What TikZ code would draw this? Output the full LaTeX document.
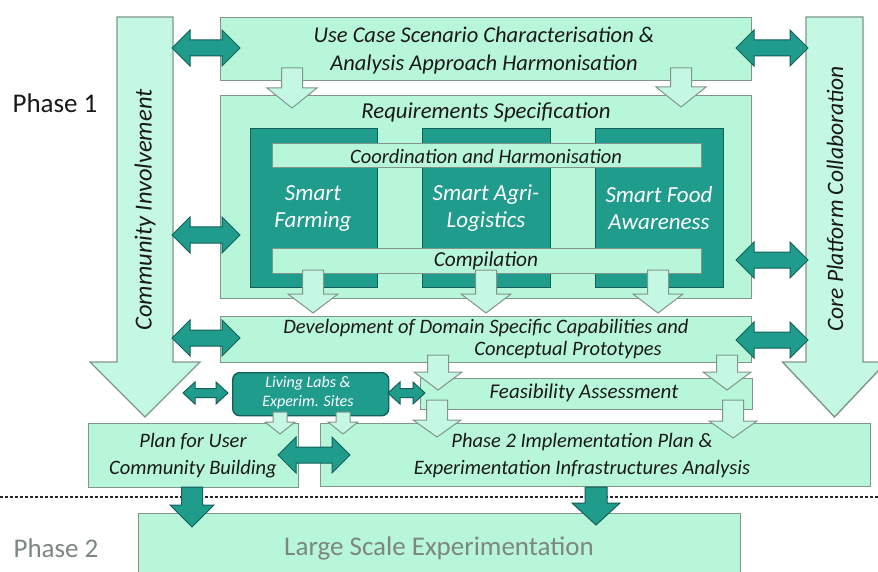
\documentclass[tikz,border=0pt]{standalone}
\usepackage{fontspec}
\setmainfont{Carlito}
\usetikzlibrary{calc}
\definecolor{mint}{RGB}{184,246,218}
\definecolor{mintarrow}{RGB}{196,248,226}
\definecolor{minte}{RGB}{128,150,140}
\definecolor{teal1}{RGB}{32,156,141}
\definecolor{teale}{RGB}{18,96,88}
\definecolor{txt}{RGB}{25,25,25}
\definecolor{gtxt}{RGB}{125,135,130}
\tikzset{
  box/.style={draw=minte, fill=mint, line width=1.4pt, rectangle, inner sep=0pt, anchor=north west},
  darkbox/.style={draw=teale, fill=teal1, line width=1.4pt, rectangle, inner sep=0pt, anchor=north west},
  larrow/.style={fill=mintarrow, draw=minte, line width=1pt, line join=miter},
  darrow/.style={fill=teal1, draw=teale, line width=1pt, line join=miter},
  bdown/.style n args={3}{to path={let \p1=(\tikztostart),\p2=(\tikztotarget) in
    (\x1-#1,\y1) -- (\x1-#1,\y2+#3) -- (\x1-#2,\y2+#3) -- (\x1,\y2) -- (\x1+#2,\y2+#3) -- (\x1+#1,\y2+#3) -- (\x1+#1,\y1) -- cycle}},
  bdouble/.style n args={3}{to path={let \p1=(\tikztostart),\p2=(\tikztotarget) in
    (\x1,\y1) -- (\x1+#3,\y1+#2) -- (\x1+#3,\y1+#1) -- (\x2-#3,\y1+#1) -- (\x2-#3,\y1+#2) -- (\x2,\y1) -- (\x2-#3,\y1-#2) -- (\x2-#3,\y1-#1) -- (\x1+#3,\y1-#1) -- (\x1+#3,\y1-#2) -- cycle}},
  lbl/.style={font=\itshape\fontsize{20.5}{27}\selectfont, text=txt, align=center, inner sep=0pt},
  wlbl/.style={font=\itshape\fontsize{23}{27}\selectfont, text=white, align=center, inner sep=0pt},
  phase/.style={font=\fontsize{27}{30}\selectfont, inner sep=0pt},
}
\begin{document}
\begin{tikzpicture}[x=1pt,y=-1pt]
\useasboundingbox (0,0) rectangle (878,572);
\fill[white] (0,0) rectangle (878,572);

% columns
\coordinate (ciTop) at (145,17);
\coordinate (ciTip) at (145,417);
\coordinate (cpTop) at (834.5,17);
\coordinate (cpTip) at (834.5,417);
\path[larrow, line width=1.4pt] (ciTop) to[bdown={28pt}{55pt}{55pt}] (ciTip);
\path[larrow, line width=1.4pt] (cpTop) to[bdown={28.5pt}{52pt}{55pt}] (cpTip);

% boxes
\node[box, minimum width=531pt, minimum height=63pt] (usecase) at (220,17) {};
\node[box, minimum width=531pt, minimum height=203pt] (req) at (220,95) {};
\node[box, minimum width=531pt, minimum height=46pt] (dev) at (220,316) {};
\node[box, minimum width=332pt, minimum height=31pt] (feas) at (420,378) {};
\node[box, minimum width=210pt, minimum height=64pt] (plan) at (88,423) {};
\node[box, minimum width=550pt, minimum height=63pt] (impl) at (320,423) {};
\node[box, minimum width=602pt, minimum height=70pt] (large) at (138,513) {};

% inner domain boxes
\node[darkbox, minimum width=127pt, minimum height=159pt] (sf) at (250,128) {};
\node[darkbox, minimum width=128pt, minimum height=159pt] (sa) at (422,128) {};
\node[darkbox, minimum width=128pt, minimum height=159pt] (sfd) at (595,128) {};
\node[box, minimum width=429pt, minimum height=24pt] (coord) at (272,143) {};
\node[box, minimum width=429pt, minimum height=25pt] (comp) at (272,248) {};

% light block arrows
\coordinate (u1s) at (292,68);  \coordinate (u1t) at (292,108);
\coordinate (u2s) at (681,68);  \coordinate (u2t) at (681,107);
\coordinate (c1s) at (313,270); \coordinate (c1t) at (313,313);
\coordinate (c2s) at (486,270); \coordinate (c2t) at (486,313);
\coordinate (c3s) at (658,270); \coordinate (c3t) at (658,313);
\coordinate (d1s) at (438,355); \coordinate (d1t) at (438,390);
\coordinate (d2s) at (727,355); \coordinate (d2t) at (727,390);
\coordinate (f1s) at (437,400); \coordinate (f1t) at (437,437);
\coordinate (f2s) at (733,400); \coordinate (f2t) at (733,438);
\path[larrow] (u1s) to[bdown={10.5pt}{25pt}{20pt}] (u1t);
\path[larrow] (u2s) to[bdown={10.5pt}{25pt}{20pt}] (u2t);
\path[larrow] (c1s) to[bdown={10.5pt}{25pt}{19pt}] (c1t);
\path[larrow] (c2s) to[bdown={10.5pt}{25pt}{19pt}] (c2t);
\path[larrow] (c3s) to[bdown={10.5pt}{25pt}{19pt}] (c3t);
\path[larrow] (d1s) to[bdown={10.5pt}{24pt}{18pt}] (d1t);
\path[larrow] (d2s) to[bdown={10.5pt}{24pt}{18pt}] (d2t);
\path[larrow] (f1s) to[bdown={10.5pt}{24pt}{17pt}] (f1t);
\path[larrow] (f2s) to[bdown={10.5pt}{24pt}{17pt}] (f2t);

% living labs
\node[darkbox, rounded corners=7pt, minimum width=156pt, minimum height=43pt] (ll) at (232,372) {};
\coordinate (l1s) at (280,412); \coordinate (l1t) at (280,434);
\coordinate (l2s) at (343,412); \coordinate (l2t) at (343,434);
\path[larrow] (l1s) to[bdown={7pt}{15pt}{12pt}] (l1t);
\path[larrow] (l2s) to[bdown={7pt}{15pt}{12pt}] (l2t);

% dotted separator
\coordinate (dotL) at (0,497);
\coordinate (dotR) at (878,497);
\draw[line width=2.6pt, dash pattern=on 2.6pt off 2.4pt, black!85] (dotL) -- (dotR);

% dark double arrows
\coordinate (a1) at (172,48);  \coordinate (b1) at (240,48);
\coordinate (a2) at (172,235); \coordinate (b2) at (240,235);
\coordinate (a3) at (172,338); \coordinate (b3) at (240,338);
\coordinate (a4) at (736,48);  \coordinate (b4) at (808,48);
\coordinate (a5) at (736,260); \coordinate (b5) at (808,260);
\coordinate (a6) at (736,340); \coordinate (b6) at (808,340);
\coordinate (a7) at (278,455); \coordinate (b7) at (350,455);
\coordinate (a8) at (183,393); \coordinate (b8) at (228,393);
\coordinate (a9) at (388,393); \coordinate (b9) at (425,393);
\path[darrow] (a1) to[bdouble={8pt}{18pt}{18pt}] (b1);
\path[darrow] (a2) to[bdouble={8pt}{18pt}{18pt}] (b2);
\path[darrow] (a3) to[bdouble={8pt}{18pt}{18pt}] (b3);
\path[darrow] (a4) to[bdouble={8pt}{18pt}{18pt}] (b4);
\path[darrow] (a5) to[bdouble={8pt}{18pt}{18pt}] (b5);
\path[darrow] (a6) to[bdouble={8pt}{18pt}{18pt}] (b6);
\path[darrow] (a7) to[bdouble={8pt}{18pt}{18pt}] (b7);
\path[darrow] (a8) to[bdouble={4.5pt}{11pt}{12pt}] (b8);
\path[darrow] (a9) to[bdouble={4.5pt}{11pt}{12pt}] (b9);

% dark down arrows to phase 2
\coordinate (p1s) at (192,487); \coordinate (p1t) at (192,527);
\coordinate (p2s) at (596,487); \coordinate (p2t) at (596,525);
\path[darrow] (p1s) to[bdown={10.5pt}{22pt}{22pt}] (p1t);
\path[darrow] (p2s) to[bdown={11pt}{24pt}{22pt}] (p2t);

% texts
\node[phase, text=txt] (ph1) at (55,103) {Phase 1};
\node[phase, text=gtxt] (ph2) at (56,548) {Phase 2};
\node[lbl, rotate=90, font=\itshape\fontsize{24.5}{27}\selectfont] (citext) at (145,210) {Community Involvement};
\node[lbl, rotate=90, font=\itshape\fontsize{23.5}{27}\selectfont] (cptext) at (835,199) {Core Platform Collaboration};
\node[lbl, font=\itshape\fontsize{22.5}{28}\selectfont] (uctext) at (484,51) {Use Case Scenario Characterisation \&\\Analysis Approach Harmonisation};
\node[lbl, font=\itshape\fontsize{22.8}{27}\selectfont] (reqtext) at (486,112) {Requirements Specification};
\node[lbl] (coordtext) at (486,156) {Coordination and Harmonisation};
\node[lbl, font=\itshape\fontsize{21.3}{27}\selectfont] (comptext) at (486,261) {Compilation};
\node[wlbl] (sftext) at (313,208.5) {Smart\\Farming};
\node[wlbl] (satext) at (486,208.5) {Smart Agri-\\Logistics};
\node[wlbl] (sfdtext) at (659,208.5) {Smart Food\\Awareness};
\node[lbl] (devtext1) at (486,328) {Development of Domain Specific Capabilities and};
\node[lbl] (devtext2) at (568,350) {Conceptual Prototypes};
\node[lbl, font=\itshape\fontsize{21}{27}\selectfont] (feastext) at (584,393) {Feasibility Assessment};
\node[lbl] (impltext) at (582,455.5) {Phase 2 Implementation Plan \&\\Experimentation Infrastructures Analysis};
\node[lbl] (plantext) at (193,455.5) {Plan for User\\Community Building};
\node[wlbl, font=\itshape\fontsize{16}{19}\selectfont] (lltext) at (308,393) {Living Labs \&\\Experim. Sites};
\node[font=\fontsize{27}{30}\selectfont, text=gtxt, inner sep=0pt] (largetext) at (439,548) {Large Scale Experimentation};
\end{tikzpicture}
\end{document}
